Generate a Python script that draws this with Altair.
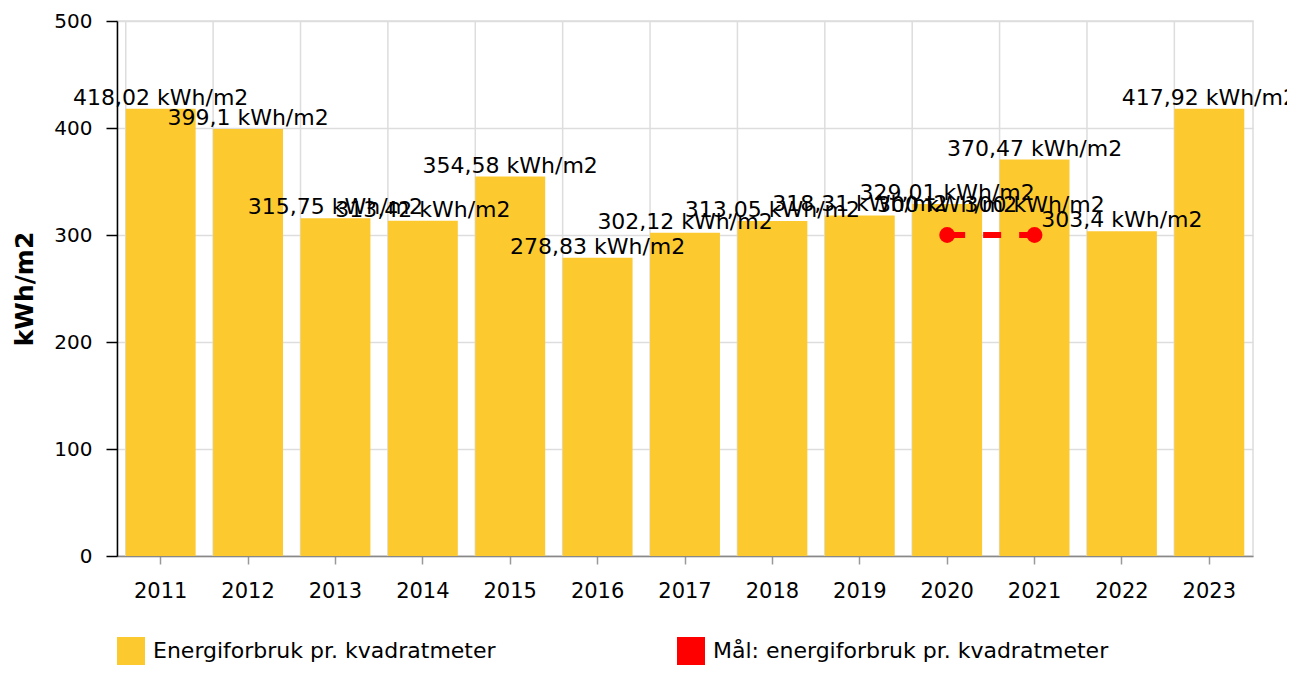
import altair as alt
import pandas as pd

years = ["2011", "2012", "2013", "2014", "2015", "2016", "2017",
         "2018", "2019", "2020", "2021", "2022", "2023"]
energy = [418.02, 399.1, 315.75, 313.42, 354.58, 278.83, 302.12,
          313.05, 318.31, 329.01, 370.47, 303.4, 417.92]
target_years = ["2020", "2021"]
target = [300, 300]
y_ticks = [0, 100, 200, 300, 400, 500]

s_energy = "Energiforbruk pr. kvadratmeter"
s_target = "Mål: energiforbruk pr. kvadratmeter"
unit = " kWh/m2"

YELLOW = "#FCC92F"
RED = "#FF0000"
FONT = "DejaVu Sans"


def fmt(v):
    return f"{v:g}".replace(".", ",") + unit


df = pd.DataFrame({"year": years, "value": energy, "series": s_energy,
                   "label": [fmt(v) for v in energy]})
dt = pd.DataFrame({"year": target_years, "value": target, "series": s_target,
                   "label": [fmt(v) for v in target]})

xscale = alt.Scale(domain=years, paddingInner=0.2, paddingOuter=0.1)
yscale = alt.Scale(domain=[0, 500], nice=False)

x_axis = alt.Axis(title=None, grid=False, tickColor="#999999",
                  tickSize=8, tickWidth=1.5, domainColor="#888888",
                  domainWidth=1.5, labelPadding=16, labelAngle=0,
                  labelFontSize=21)
y_axis = alt.Axis(title="kWh/m2", values=y_ticks, grid=True, gridColor="#dddddd",
                  gridWidth=1.5, domainColor="#000000",
                  domainWidth=1.5, tickColor="#000000",
                  tickSize=11, tickWidth=1.5, labelPadding=14,
                  labelOverlap=False, labelFontSize=20,
                  titleFontSize=25, titleFontWeight="bold",
                  titlePadding=16, titleColor="#000000")


def X(**kw):
    return alt.X("year:N", scale=xscale, sort=years, axis=x_axis, **kw)


def Y():
    return alt.Y("value:Q", scale=yscale, axis=y_axis)


vgrid = alt.Chart(df).mark_rule(color="#dddddd", strokeWidth=1.5).encode(
    x=X(bandPosition=0)
)

bars = alt.Chart(df).mark_bar(opacity=1).encode(
    x=X(),
    y=Y(),
    color=alt.Color("series:N",
                    scale=alt.Scale(domain=[s_energy, s_target], range=[YELLOW, RED]),
                    legend=alt.Legend(title=None, orient="none", legendX=0, legendY=616,
                                      direction="horizontal", symbolType="square",
                                      symbolSize=784, symbolStrokeWidth=0,
                                      symbolOpacity=1, labelFontSize=22,
                                      labelColor="#000000", labelOffset=8,
                                      columnPadding=181, padding=0,
                                      labelLimit=600)),
)

bar_labels = alt.Chart(df).mark_text(baseline="alphabetic", dy=-4, fontSize=22,
                                     color="#000000", font=FONT).encode(
    x=X(), y=Y(), text="label:N",
)

line = alt.Chart(dt).mark_line(color=RED, strokeWidth=6, strokeDash=[18, 18]).encode(
    x=X(), y=Y(),
)

pts = alt.Chart(dt).mark_circle(color=RED, size=250, opacity=1).encode(
    x=X(), y=Y(),
)

t_labels = alt.Chart(dt).mark_text(baseline="alphabetic", dy=-23, fontSize=22,
                                   color="#000000", font=FONT).encode(
    x=X(), y=Y(), text="label:N",
)

chart = alt.layer(vgrid, bars, bar_labels, line, pts, t_labels).properties(
    width=1136, height=535,
    autosize=alt.AutoSizeParams(type="none"),
    padding={"left": 109, "top": 13, "right": 34, "bottom": 109},
).configure(font=FONT).configure_view(stroke="#dddddd", strokeWidth=1.5).configure_axis(
    labelColor="#000000", labelFont=FONT
)

chart.save("out.html", embed_options={"renderer": "svg", "actions": False})
